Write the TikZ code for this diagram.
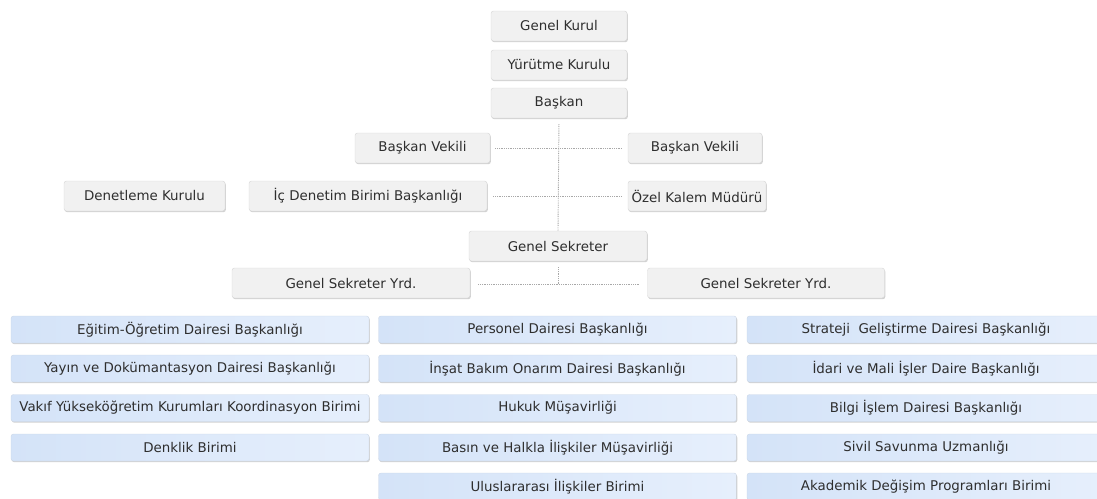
\documentclass[tikz,border=0pt]{standalone}
\usepackage{fontspec}
\setmainfont{DejaVu Sans}
\usetikzlibrary{shadows}
\definecolor{txt}{HTML}{2E2E2E}
\definecolor{gfill}{HTML}{F1F1F1}
\definecolor{gline}{HTML}{D6D6D6}
\definecolor{bleft}{HTML}{D4E3F8}
\definecolor{bright}{HTML}{E6EFFC}
\definecolor{bline}{HTML}{CBD7E6}
\definecolor{dotc}{HTML}{A8A8A8}
\tikzset{
  base/.style={rectangle, rounded corners=2.5pt, inner sep=0pt, text=txt,
    font=\fontsize{13.4}{15}\selectfont,
    drop shadow={shadow xshift=0.8pt, shadow yshift=-1.2pt, opacity=0.18, fill=black}},
  gbox/.style={base, draw=gline, fill=gfill, minimum height=30pt},
  bbox/.style={base, draw=bline, left color=bleft, right color=bright, minimum height=27pt, minimum width=358pt},
  dotline/.style={draw=dotc, line width=0.9pt, dash pattern=on 0.9pt off 0.9pt}
}
\begin{document}
\begin{tikzpicture}[x=1pt,y=-1pt]
\useasboundingbox (0,0) rectangle (1097,498);
\clip (0,0) rectangle (1097,498);
% top
\node[gbox, minimum width=136pt] (gk) at (559,26) {Genel Kurul};
\node[gbox, minimum width=136pt] (yk) at (559,65) {Yürütme Kurulu};
\node[gbox, minimum width=136pt] (bsk) at (559,103) {Başkan};
\node[gbox, minimum width=135pt] (bvl) at (422.5,148) {Başkan Vekili};
\node[gbox, minimum width=134pt] (bvr) at (695,148) {Başkan Vekili};
\node[gbox, minimum width=161pt] (dk) at (144.5,196) {Denetleme Kurulu};
\node[gbox, minimum width=238pt] (icd) at (368,196) {İç Denetim Birimi Başkanlığı};
\node[gbox, minimum width=138pt] (ozk) at (697,196) {Özel Kalem Müdürü};
\node[gbox, minimum width=178pt] (gs) at (558,246) {Genel Sekreter};
\node[gbox, minimum width=238pt] (gsyl) at (351,283) {Genel Sekreter Yrd.};
\node[gbox, minimum width=237pt] (gsyr) at (766,283) {Genel Sekreter Yrd.};
% connectors
\coordinate (gsj) at (558,284);
\draw[dotline, shorten <=6pt] (bsk.south) -- (gs.north);
\draw[dotline, shorten <=5pt, shorten >=5pt] (bvl.east) -- (bvr.west);
\draw[dotline, shorten <=6pt, shorten >=6pt] (icd.east) -- (ozk.west);
\draw[dotline, shorten <=6pt] (gs.south) -- (gsj);
\draw[dotline, shorten <=8pt, shorten >=8pt] (gsyl.east |- gsj) -- (gsyr.west |- gsj);
% grid
\node[bbox] (a1) at (190,329.5) {Eğitim-Öğretim Dairesi Başkanlığı};
\node[bbox] (a2) at (190,368.5) {Yayın ve Dokümantasyon Dairesi Başkanlığı};
\node[bbox] (a3) at (190,408) {Vakıf Yükseköğretim Kurumları Koordinasyon Birimi};
\node[bbox] (a4) at (190,447.5) {Denklik Birimi};
\node[bbox] (b1) at (557.5,329.5) {Personel Dairesi Başkanlığı};
\node[bbox] (b2) at (557.5,368.5) {İnşat Bakım Onarım Dairesi Başkanlığı};
\node[bbox] (b3) at (557.5,408) {Hukuk Müşavirliği};
\node[bbox] (b4) at (557.5,447.5) {Basın ve Halkla İlişkiler Müşavirliği};
\node[bbox] (b5) at (557.5,486.5) {Uluslararası İlişkiler Birimi};
\node[bbox] (c1) at (926,329.5) {Strateji\ \ Geliştirme Dairesi Başkanlığı};
\node[bbox] (c2) at (926,368.5) {İdari ve Mali İşler Daire Başkanlığı};
\node[bbox] (c3) at (926,408) {Bilgi İşlem Dairesi Başkanlığı};
\node[bbox] (c4) at (926,447.5) {Sivil Savunma Uzmanlığı};
\node[bbox] (c5) at (926,486.5) {Akademik Değişim Programları Birimi};
\end{tikzpicture}
\end{document}
